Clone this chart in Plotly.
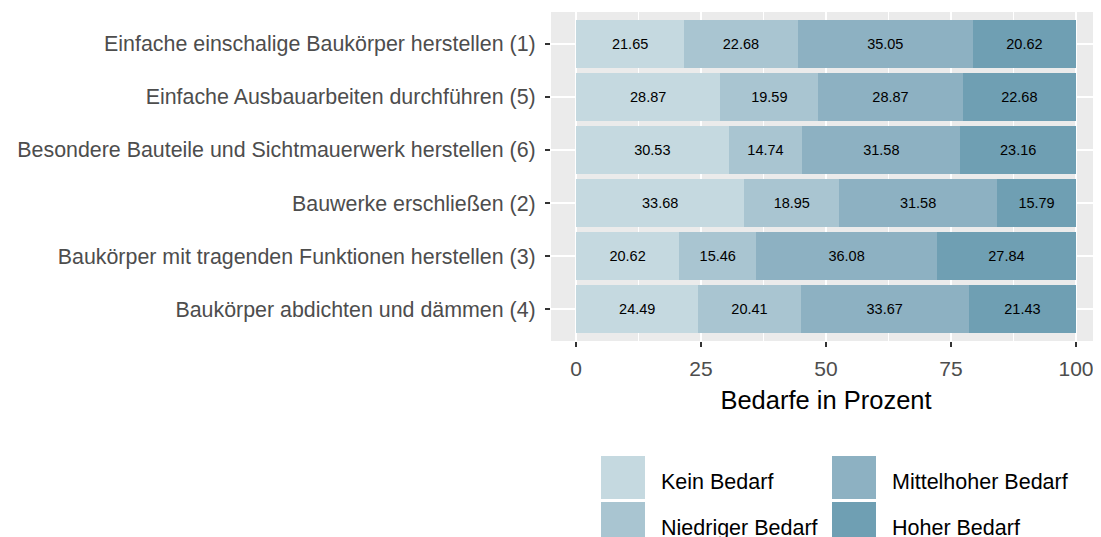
import plotly.graph_objects as go

categories = [
    "Einfache einschalige Baukörper herstellen (1)",
    "Einfache Ausbauarbeiten durchführen (5)",
    "Besondere Bauteile und Sichtmauerwerk herstellen (6)",
    "Bauwerke erschließen (2)",
    "Baukörper mit tragenden Funktionen herstellen (3)",
    "Baukörper abdichten und dämmen (4)",
]
series_names = ["Kein Bedarf", "Niedriger Bedarf", "Mittelhoher Bedarf", "Hoher Bedarf"]
kein = [21.65, 28.87, 30.53, 33.68, 20.62, 24.49]
niedrig = [22.68, 19.59, 14.74, 18.95, 15.46, 20.41]
mittel = [35.05, 28.87, 31.58, 31.58, 36.08, 33.67]
hoch = [20.62, 22.68, 23.16, 15.79, 27.84, 21.43]
colors = ["#c5d9e0", "#a9c5d1", "#8db1c2", "#6f9fb3"]
x_ticks = [0, 25, 50, 75, 100]

# page has an 8px body margin; work in page pixels and convert
OFF = 8
W, H = 1093, 529
L, R, T, B = 543, 0, 4, 196
pw, ph = W - L - R, H - T - B

def px(x):
    return (x - OFF - L) / pw

def py(y):
    return (H - B - (y - OFF)) / ph

fig = go.Figure()
for name, vals, col in zip(series_names, [kein, niedrig, mittel, hoch], colors):
    fig.add_trace(go.Bar(
        y=categories, x=vals, name=name, orientation="h",
        marker=dict(color=col, line=dict(width=0)),
        width=0.9,
        text=[f"{v:.2f}" for v in vals], textposition="inside",
        insidetextanchor="middle",
        textfont=dict(size=14.5, color="black", family="Liberation Sans"),
        showlegend=False,
    ))

fig.update_layout(
    barmode="stack",
    width=W, height=H,
    margin=dict(l=L, r=R, t=T, b=B, autoexpand=False),
    paper_bgcolor="white",
    plot_bgcolor="#ebebeb",
    font=dict(family="Liberation Sans", color="#4d4d4d"),
    showlegend=False,
)
fig.update_xaxes(
    range=[-5, 105], tickvals=x_ticks, ticktext=[str(t) for t in x_ticks],
    showgrid=True, gridcolor="white", gridwidth=2,
    minor=dict(dtick=12.5, tick0=0, showgrid=True, gridcolor="white", gridwidth=1),
    zeroline=False, ticks="outside", ticklen=5, tickwidth=1.5, tickcolor="#333333",
    tickfont=dict(size=21, color="#4d4d4d"),
    ticklabelstandoff=4,
    title=dict(text="Bedarfe in Prozent", font=dict(size=25.5, color="black"), standoff=11),
    automargin=False,
)
fig.update_yaxes(
    categoryorder="array", categoryarray=categories,
    range=[5.6, -0.6],
    showgrid=True, gridcolor="white", gridwidth=2,
    zeroline=False, ticks="outside", ticklen=5, tickwidth=1.5, tickcolor="#333333",
    tickfont=dict(size=21.4, color="#4d4d4d"),
    ticklabelstandoff=5,
    automargin=False,
)

legend_items = [
    (series_names[0], colors[0], 601, 456),
    (series_names[1], colors[1], 601, 502),
    (series_names[2], colors[2], 832, 456),
    (series_names[3], colors[3], 832, 502),
]
for name, col, x0, y0 in legend_items:
    fig.add_shape(type="rect", xref="paper", yref="paper",
                  x0=px(x0), x1=px(x0 + 44), y0=py(y0), y1=py(y0 + 43),
                  fillcolor=col, line=dict(width=0), layer="above")
    fig.add_annotation(xref="paper", yref="paper", x=px(x0 + 58), y=py(y0 + 26),
                       text=name, showarrow=False, xanchor="left", yanchor="middle",
                       font=dict(size=21.5, color="black", family="Liberation Sans"))

fig.write_html("out.html")
